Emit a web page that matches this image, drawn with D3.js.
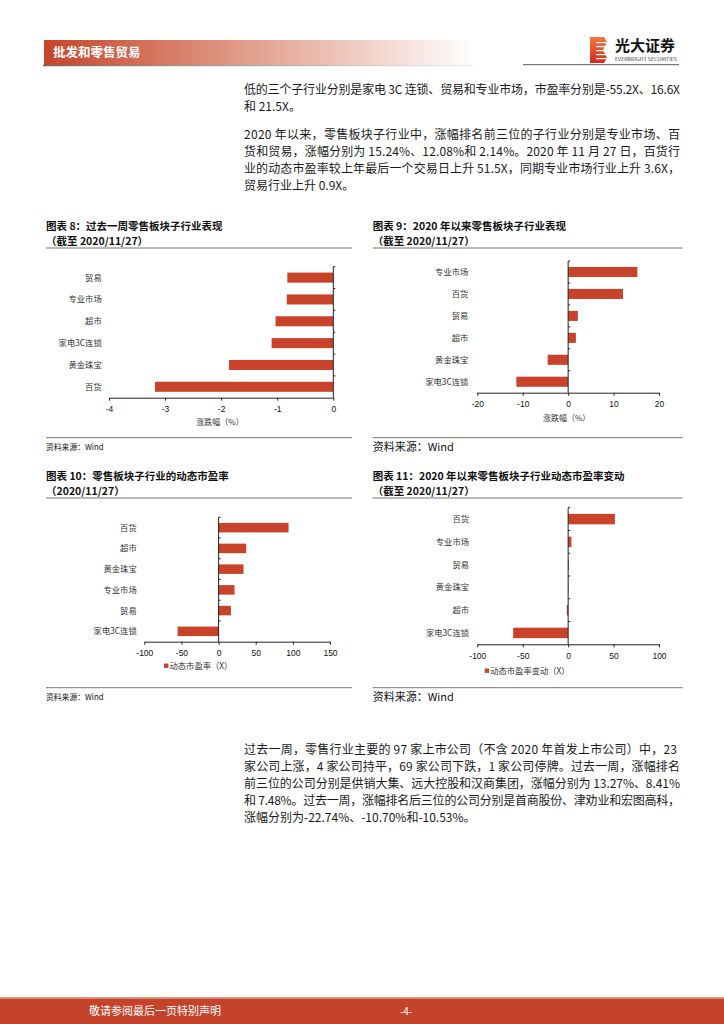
<!DOCTYPE html>
<html><head><meta charset="utf-8">
<script src="https://cdn.jsdelivr.net/npm/d3@7/dist/d3.min.js"></script>
<style>
html,body{margin:0;padding:0;background:#fff;}
svg{display:block;font-family:"Noto Sans CJK SC","Noto Sans",sans-serif;}
</style></head>
<body>
<svg id="page" width="724" height="1024"></svg>
<script>
// ---------- DATA ----------
const chart8Categories = ["贸易","专业市场","超市","家电3C连锁","黄金珠宝","百货"];
const chart8Values = [-0.82,-0.83,-1.03,-1.10,-1.86,-3.18];
const chart8Ticks = [-4,-3,-2,-1,0];

const chart9Categories = ["专业市场","百货","贸易","超市","黄金珠宝","家电3C连锁"];
const chart9Values = [15.24,12.08,2.14,1.7,-4.5,-11.4];
const chart9Ticks = [-20,-10,0,10,20];

const chart10Categories = ["百货","超市","黄金珠宝","专业市场","贸易","家电3C连锁"];
const chart10Values = [94.2,37.2,33.6,21.5,16.6,-55.2];
const chart10Ticks = [-100,-50,0,50,100,150];

const chart11Categories = ["百货","专业市场","贸易","黄金珠宝","超市","家电3C连锁"];
const chart11Values = [51.5,3.6,0.9,0.4,-1.5,-60.5];
const chart11Ticks = [-100,-50,0,50,100];

const para1 = ["低的三个子行业分别是家电 3C 连锁、贸易和专业市场，市盈率分别是-55.2X、16.6X","和 21.5X。"];
const para2 = ["2020 年以来，零售板块子行业中，涨幅排名前三位的子行业分别是专业市场、百",
 "货和贸易，涨幅分别为 15.24%、12.08%和 2.14%。2020 年 11 月 27 日，百货行",
 "业的动态市盈率较上年最后一个交易日上升 51.5X，同期专业市场行业上升 3.6X，",
 "贸易行业上升 0.9X。"];
const para3 = ["过去一周，零售行业主要的 97 家上市公司（不含 2020 年首发上市公司）中，23",
 "家公司上涨，4 家公司持平，69 家公司下跌，1 家公司停牌。过去一周，涨幅排名",
 "前三位的公司分别是供销大集、远大控股和汉商集团，涨幅分别为 13.27%、8.41%",
 "和 7.48%。过去一周，涨幅排名后三位的公司分别是首商股份、津劝业和宏图高科，",
 "涨幅分别为-22.74%、-10.70%和-10.53%。"];

// ---------- PAGE ----------
const svg = d3.select("#page");
const RED = "#c8432a";
const defs = svg.append("defs");
const hg = defs.append("linearGradient").attr("id","hg").attr("x1","0").attr("x2","1").attr("y1","0").attr("y2","0");
hg.append("stop").attr("offset","0").attr("stop-color","#c6442a");
hg.append("stop").attr("offset","0.45").attr("stop-color","#e09a86");
hg.append("stop").attr("offset","1").attr("stop-color","#ffffff");
const lg = defs.append("linearGradient").attr("id","lg").attr("x1","0").attr("x2","1").attr("y1","0").attr("y2","0");
lg.append("stop").attr("offset","0").attr("stop-color","#666");
lg.append("stop").attr("offset","1").attr("stop-color","#eee");
const logoG = defs.append("linearGradient").attr("id","logoG").attr("x1","0").attr("x2","0").attr("y1","0").attr("y2","1");
logoG.append("stop").attr("offset","0").attr("stop-color","#f07a3a");
logoG.append("stop").attr("offset","1").attr("stop-color","#d8261e");

// header
svg.append("rect").attr("x",44).attr("y",40).attr("width",430).attr("height",25).attr("fill","url(#hg)");
svg.append("rect").attr("x",43).attr("y",65).attr("width",430).attr("height",1.2).attr("fill","url(#lg)");
svg.append("text").attr("x",53).attr("y",52).attr("dy","0.36em").attr("fill","#fff")
  .attr("font-size",12.5).attr("font-weight","bold").text("批发和零售贸易");
svg.append("rect").attr("x",523).attr("y",64).attr("width",156).attr("height",1.2).attr("fill","#777");
// logo
svg.append("path").attr("d","M590,37 L604,37 L607,42 L603,50 L607,58 L604,63 L590,63 Z").attr("fill","url(#logoG)");
[42,46,50,54,58].forEach(y=>{
  svg.append("rect").attr("x",596).attr("y",y).attr("width",11).attr("height",1.2).attr("fill","#fff");
});
svg.append("text").attr("x",615).attr("y",46).attr("dy","0.36em").attr("font-size",15).attr("font-weight","bold").attr("fill","#111").text("光大证券");
svg.append("text").attr("x",615).attr("y",59.5).attr("dy","0.36em").attr("font-size",4.3).attr("fill","#333")
  .attr("textLength",62).attr("lengthAdjust","spacingAndGlyphs").text("EVERBRIGHT SECURITIES");

// body text
function para(lines, y0, justifyLast, rightEdges){
  lines.forEach((t,i)=>{
    const last = i===lines.length-1;
    const tx = svg.append("text").attr("x",244).attr("y",y0+i*17).attr("dy","0.36em")
      .attr("font-size",12).attr("fill","#1a1a1a").text(t);
    if(!last || justifyLast){
      const r = rightEdges ? rightEdges[i] : 680;
      tx.attr("textLength", r-244).attr("lengthAdjust","spacing");
    }
  });
}
para(para1, 90, false);
para(para2, 135, false);
para(para3, 750, false, [677,680,680,680]);

// footer
svg.append("rect").attr("x",0).attr("y",997).attr("width",724).attr("height",1.5).attr("fill","#e59a85");
svg.append("rect").attr("x",0).attr("y",998.5).attr("width",724).attr("height",25.5).attr("fill","#c5432a");
svg.append("text").attr("x",89).attr("y",1011).attr("dy","0.36em").attr("font-size",11).attr("fill","#fff").text("敬请参阅最后一页特别声明");
svg.append("text").attr("x",406).attr("y",1011).attr("dy","0.36em").attr("font-size",10).attr("fill","#fff").attr("text-anchor","middle").text("-4-");

// ---------- CHARTS ----------
function drawChart(c){
  const g = svg.append("g");
  // title
  g.append("text").attr("x",c.left).attr("y",c.titleY).attr("dy","0.36em").attr("font-size",10.5)
    .attr("font-weight","bold").attr("fill","#111").text(c.title1);
  g.append("text").attr("x",c.left).attr("y",c.titleY+15.3).attr("dy","0.36em").attr("font-size",10.5)
    .attr("font-weight","bold").attr("fill","#111").text(c.title2);
  g.append("line").attr("x1",c.left).attr("x2",c.right).attr("y1",c.titleY+22).attr("y2",c.titleY+22)
    .attr("stroke","#777").attr("stroke-width",1);
  g.append("line").attr("x1",c.left).attr("x2",c.right).attr("y1",c.bottomLine).attr("y2",c.bottomLine)
    .attr("stroke","#777").attr("stroke-width",1);
  g.append("text").attr("x",c.left).attr("y",c.bottomLine+9.5).attr("dy","0.36em")
    .attr("font-size",c.srcSize).attr("fill","#111").text("资料来源：Wind");

  const x = d3.scaleLinear().domain([c.ticks[0], c.ticks[c.ticks.length-1]]).range(c.xRange);
  const y = d3.scaleBand().domain(c.categories).range(c.yRange).paddingInner(0.54).paddingOuter(0.27);

  // bars
  g.selectAll("rect.bar").data(c.values).enter().append("rect").attr("class","bar")
    .attr("x",(d)=>Math.min(x(0),x(d)))
    .attr("width",(d)=>Math.abs(x(d)-x(0)))
    .attr("y",(d,i)=>y(c.categories[i]))
    .attr("height",y.bandwidth())
    .attr("fill",RED);

  // x axis
  const ax = g.append("g").attr("transform",`translate(0,${c.yRange[1]})`)
    .call(d3.axisBottom(x).tickValues(c.ticks).tickSize(3).tickPadding(5.5).tickSizeOuter(0).tickFormat(d=>String(d)));
  ax.select(".domain").attr("stroke","#222");
  ax.selectAll(".tick line").attr("stroke","#222");
  ax.selectAll("text").attr("font-size",8.5).attr("fill","#111").attr("font-family",'"Liberation Sans","Noto Sans",sans-serif');

  // y axis line with ticks at band boundaries
  const x0 = x(0);
  g.append("line").attr("x1",x0).attr("x2",x0).attr("y1",c.yRange[0]).attr("y2",c.yRange[1]).attr("stroke","#222");
  const step = y.step();
  for(let i=0;i<c.categories.length;i++){
    const yy = c.yRange[0]+i*step;
    g.append("line").attr("x1",x0).attr("x2",x0+2).attr("y1",yy).attr("y2",yy).attr("stroke","#222");
  }
  // category labels
  g.selectAll("text.cat").data(c.categories).enter().append("text").attr("class","cat")
    .attr("x",c.labelRight).attr("y",d=>y(d)+y.bandwidth()/2).attr("dy","0.36em")
    .attr("text-anchor","end").attr("font-size",8.3).attr("fill","#333").text(d=>d);

  if(c.axisTitle){
    g.append("text").attr("x",c.axisTitleX).attr("y",c.axisTitleY).attr("dy","0.36em")
      .attr("text-anchor","middle").attr("font-size",8).attr("fill","#333").text(c.axisTitle);
  }
  if(c.legend){
    g.append("rect").attr("x",c.legendX).attr("y",c.legendY-2.2).attr("width",4.4).attr("height",4.4).attr("fill",RED);
    g.append("text").attr("x",c.legendX+5.5).attr("y",c.legendY).attr("dy","0.36em")
      .attr("font-size",8.3).attr("fill","#333").text(c.legend);
  }
}

drawChart({title1:"图表 8：过去一周零售板块子行业表现",title2:"（截至 2020/11/27）",
  left:46,right:352,titleY:226,bottomLine:437.7,srcSize:7.8,
  categories:chart8Categories,values:chart8Values,ticks:chart8Ticks,
  xRange:[109,333.3],yRange:[266.7,397.7],labelRight:101.7,
  axisTitle:"涨跌幅（%）",axisTitleX:220,axisTitleY:422});

drawChart({title1:"图表 9：2020 年以来零售板块子行业表现",title2:"（截至 2020/11/27）",
  left:372.7,right:682.7,titleY:226,bottomLine:437.7,srcSize:11,
  categories:chart9Categories,values:chart9Values,ticks:chart9Ticks,
  xRange:[477.3,659],yRange:[261,392.7],labelRight:468.3,
  axisTitle:"涨跌幅（%）",axisTitleX:566.7,axisTitleY:418.3});

drawChart({title1:"图表 10：零售板块子行业的动态市盈率",title2:"（2020/11/27）",
  left:46,right:352,titleY:476,bottomLine:687.7,srcSize:7.8,
  categories:chart10Categories,values:chart10Values,ticks:chart10Ticks,
  xRange:[144.3,330],yRange:[517.3,641.7],labelRight:136.7,
  legend:"动态市盈率（X）",legendX:164,legendY:665.7});

drawChart({title1:"图表 11：2020 年以来零售板块子行业动态市盈率变动",title2:"（截至 2020/11/27）",
  left:372.7,right:682.7,titleY:476,bottomLine:687.7,srcSize:11,
  categories:chart11Categories,values:chart11Values,ticks:chart11Ticks,
  xRange:[477.3,659],yRange:[507.7,644.3],labelRight:469,
  legend:"动态市盈率变动（X）",legendX:484.7,legendY:670.7});
</script>
</body></html>
